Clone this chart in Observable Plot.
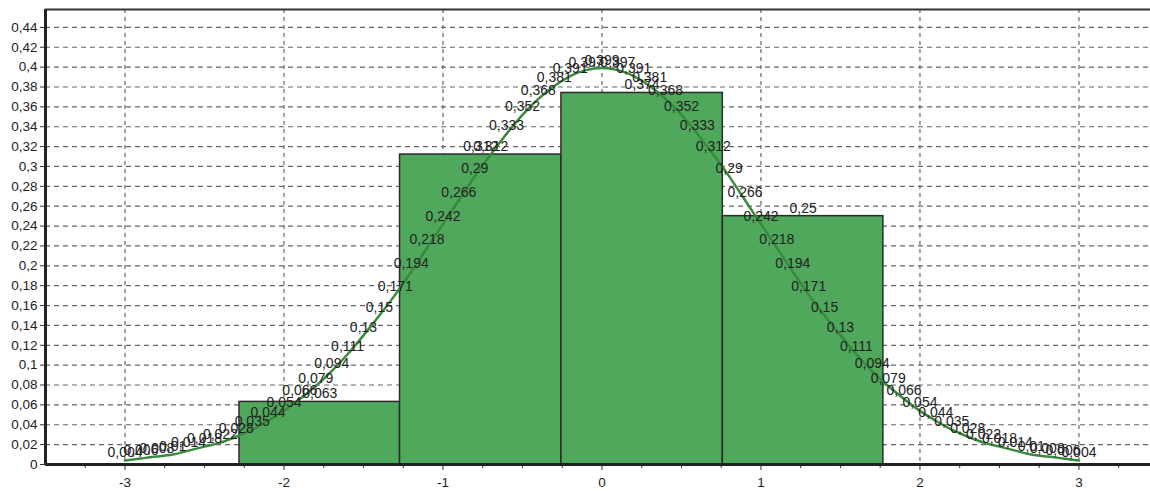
<!DOCTYPE html>
<html>
<head>
<meta charset="utf-8">
<script src="https://cdn.jsdelivr.net/npm/d3@7"></script>
<script src="https://cdn.jsdelivr.net/npm/@observablehq/plot@0.6"></script>
<style>
  html, body { margin: 0; padding: 0; background: #fff; }
  #chart { width: 1150px; height: 491px; overflow: hidden; }
</style>
</head>
<body>
<div id="chart"></div>
<script>
// Histogram bins (left/right edges) and heights
const binLeft   = [-2.28, -1.27, -0.255, 0.76];
const binRight  = [-1.27, -0.255, 0.76, 1.77];
const binHeight = [0.063, 0.312, 0.374, 0.25];

// Normal density curve points with labels
const curveX = [-3.0,-2.9,-2.8,-2.7,-2.6,-2.5,-2.4,-2.3,-2.2,-2.1,-2.0,-1.9,-1.8,-1.7,-1.6,-1.5,-1.4,-1.3,-1.2,-1.1,
                -1.0,-0.9,-0.8,-0.7,-0.6,-0.5,-0.4,-0.3,-0.2,-0.1,0.0,0.1,0.2,0.3,0.4,0.5,0.6,0.7,0.8,0.9,
                1.0,1.1,1.2,1.3,1.4,1.5,1.6,1.7,1.8,1.9,2.0,2.1,2.2,2.3,2.4,2.5,2.6,2.7,2.8,2.9,3.0];
const curveY = [0.004,0.006,0.008,0.01,0.014,0.018,0.022,0.028,0.035,0.044,0.054,0.066,0.079,0.094,0.111,0.13,0.15,0.171,0.194,0.218,
                0.242,0.266,0.29,0.312,0.333,0.352,0.368,0.381,0.391,0.397,0.399,0.397,0.391,0.381,0.368,0.352,0.333,0.312,0.29,0.266,
                0.242,0.218,0.194,0.171,0.15,0.13,0.111,0.094,0.079,0.066,0.054,0.044,0.035,0.028,0.022,0.018,0.014,0.01,0.008,0.006,0.004];

// Axis ticks
const yTicks = [0,0.02,0.04,0.06,0.08,0.1,0.12,0.14,0.16,0.18,0.2,0.22,0.24,0.26,0.28,0.3,0.32,0.34,0.36,0.38,0.4,0.42,0.44];
const xTicks = [-3,-2,-1,0,1,2,3];
const xMinorTicks = [-3.25,-2.75,-2.5,-2.25,-1.75,-1.5,-1.25,-0.75,-0.5,-0.25,0.25,0.5,0.75,1.25,1.5,1.75,2.25,2.5,2.75,3.25];

const xDomain = [-3.5, 3.45];
const yDomain = [0, 0.458];

const fmt = d => String(d).replace(".", ",");

const bins = binLeft.map((l, i) => ({x1: l, x2: binRight[i], y: binHeight[i], xm: (l + binRight[i]) / 2}));
const curve = curveX.map((x, i) => ({x, y: curveY[i]}));

const chart = Plot.plot({
  width: 1150,
  height: 491,
  marginLeft: 45,
  marginRight: 0,
  marginTop: 9,
  marginBottom: 27,
  x: {domain: xDomain, label: null},
  y: {domain: yDomain, label: null},
  style: {fontFamily: "'Liberation Sans', Arial, sans-serif", fontSize: "14px", color: "#222", background: "#fff"},
  marks: [
    Plot.gridY(yTicks.filter(d => d > 0), {stroke: "#666", strokeOpacity: 1, strokeWidth: 1.2, strokeDasharray: "5,4"}),
    Plot.gridX(xTicks, {stroke: "#666", strokeOpacity: 1, strokeWidth: 1.2, strokeDasharray: "4,4"}),
    Plot.rectY(bins, {x1: "x1", x2: "x2", y: "y", fill: "#4fa85c", stroke: "#2b2b2b", strokeWidth: 1.5}),
    Plot.line(curve, {x: "x", y: "y", stroke: "#3a8a3e", strokeWidth: 2.5, curve: "natural"}),
    Plot.text(curve, {x: "x", y: "y", text: d => fmt(d.y), dy: -8, fill: "#222", fontSize: 14}),
    Plot.text(bins, {x: "xm", y: "y", text: d => fmt(d.y), dy: -8, fill: "#222", fontSize: 14}),
    Plot.axisY(yTicks, {label: null, tickFormat: fmt, tickSize: 5, tickPadding: 3, stroke: "#333", fill: "#222", fontSize: 13.5}),
    Plot.axisX(xTicks, {label: null, tickFormat: d => String(d), tickSize: 6, tickPadding: 7, stroke: "#333", fill: "#222", fontSize: 13.5}),
    Plot.axisX(xMinorTicks, {label: null, tickFormat: null, text: null, tickSize: 4, stroke: "#333"}),
    Plot.ruleX([xDomain[0]], {stroke: "#222", strokeWidth: 3}),
    Plot.ruleY([0], {stroke: "#222", strokeWidth: 3}),
    Plot.ruleY([yDomain[1]], {stroke: "#333", strokeWidth: 2})
  ]
});
document.getElementById("chart").appendChild(chart);
</script>
</body>
</html>
